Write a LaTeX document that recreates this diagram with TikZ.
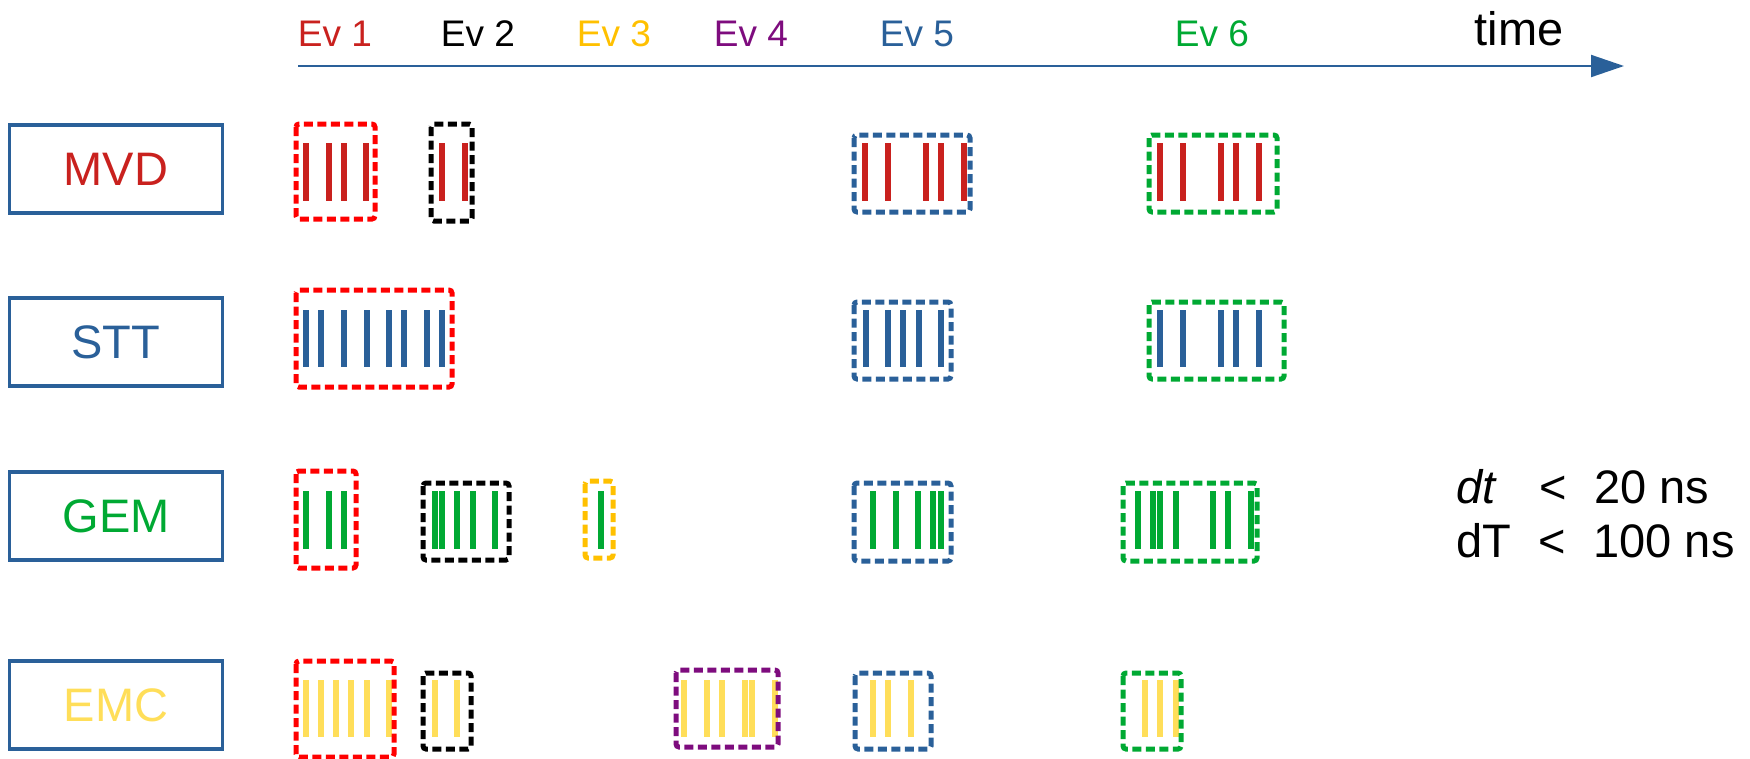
\documentclass[tikz,border=0pt]{standalone}
\usepackage{fontspec}
\setmainfont{Liberation Sans}
\usepackage{xcolor}
\usepackage{tikz}
\usetikzlibrary{arrows.meta,positioning}
\definecolor{evred}{HTML}{C9211E}
\definecolor{boxred}{HTML}{FF0000}
\definecolor{evyellow}{HTML}{FFC000}
\definecolor{emcyellow}{HTML}{FFDE59}
\definecolor{evpurple}{HTML}{7E0C7E}
\definecolor{evblue}{HTML}{2A6099}
\definecolor{evgreen}{HTML}{00A933}
\tikzset{
  detbox/.style={
    draw=evblue, line width=3.5pt, text=#1,
    minimum width=213pt, minimum height=88pt,
    inner sep=0pt, outer sep=0pt,
    font=\fontsize{47}{56}\selectfont,
  },
  evlbl/.style={text=#1, anchor=base, font=\fontsize{37}{44}\selectfont},
  hit/.style={draw=#1, line width=6pt},
  grp/.style={draw=#1, line width=5pt, dash pattern=on 9pt off 4.5pt,
    rounded corners=3pt},
  axis/.style={-{Triangle[length=33pt, width=22pt]}, line width=2pt, color=evblue},
}

\begin{document}
\begin{tikzpicture}[x=1pt, y=-1pt]
  \useasboundingbox (0,0) rectangle (1750,758);

  % time axis
  \coordinate (tstart) at (298,66);
  \coordinate (tend) at (1624,66);
  \draw[axis] (tstart) -- (tend);
  \node[anchor=base, font=\fontsize{47}{56}\selectfont] (time) at (1519,45) {time};

  \node[evlbl=evred] (ev1) at (335,46) {Ev 1};
  \node[evlbl=black] (ev2) at (478,46) {Ev 2};
  \node[evlbl=evyellow] (ev3) at (614,46) {Ev 3};
  \node[evlbl=evpurple] (ev4) at (751,46) {Ev 4};
  \node[evlbl=evblue] (ev5) at (917,46) {Ev 5};
  \node[evlbl=evgreen] (ev6) at (1212,46) {Ev 6};

  % detectors
  \node[detbox=evred] (mvd) at (116,169) {MVD};
  \node[detbox=evblue] (stt) at (116,342) {STT};
  \node[detbox=evgreen] (gem) at (116,516) {GEM};
  \node[detbox=emcyellow] (emc) at (116,705) {EMC};

  % MVD hits
  \foreach \x in {306,329,344,366} \draw[hit=evred] (\x,143) -- (\x,201);
  \foreach \x in {442,465} \draw[hit=evred] (\x,143) -- (\x,201);
  \foreach \x in {865,888,926,941,964} \draw[hit=evred] (\x,143) -- (\x,201);
  \foreach \x in {1160,1183,1221,1236,1259} \draw[hit=evred] (\x,143) -- (\x,201);
  \draw[grp=boxred] (296,124) rectangle (375,219);
  \draw[grp=black] (431,124) rectangle (472,221);
  \draw[grp=evblue] (854,135) rectangle (970,212);
  \draw[grp=evgreen] (1149,135) rectangle (1277,212);

  % STT hits
  \foreach \x in {306,321,344,367,389,404,427,442} \draw[hit=evblue] (\x,310) -- (\x,367);
  \foreach \x in {866,888,903,919,941} \draw[hit=evblue] (\x,310) -- (\x,367);
  \foreach \x in {1160,1183,1221,1236,1259} \draw[hit=evblue] (\x,310) -- (\x,367);
  \draw[grp=boxred] (296,290) rectangle (452,387);
  \draw[grp=evblue] (854,302) rectangle (951,379);
  \draw[grp=evgreen] (1149,302) rectangle (1284,379);

  % GEM hits
  \foreach \x in {306,329,344} \draw[hit=evgreen] (\x,491) -- (\x,549);
  \foreach \x in {435,442,457,473,495} \draw[hit=evgreen] (\x,491) -- (\x,549);
  \draw[hit=evgreen] (601,491) -- (601,549);
  \foreach \x in {873,896,918,933,941} \draw[hit=evgreen] (\x,491) -- (\x,549);
  \foreach \x in {1138,1153,1160,1176,1213,1228,1251} \draw[hit=evgreen] (\x,491) -- (\x,549);
  \draw[grp=boxred] (296,471) rectangle (356,568);
  \draw[grp=black] (423,483) rectangle (509,560);
  \draw[grp=evyellow] (585,481) rectangle (613,558);
  \draw[grp=evblue] (854,483) rectangle (951,561);
  \draw[grp=evgreen] (1123,483) rectangle (1257,561);

  % EMC hits
  \foreach \x in {306,321,336,351,367,389} \draw[hit=emcyellow] (\x,680) -- (\x,737);
  \foreach \x in {435,457} \draw[hit=emcyellow] (\x,680) -- (\x,737);
  \foreach \x in {684,707,722,745,752,775} \draw[hit=emcyellow] (\x,680) -- (\x,737);
  \foreach \x in {873,888,911} \draw[hit=emcyellow] (\x,680) -- (\x,737);
  \foreach \x in {1145,1160,1176} \draw[hit=emcyellow] (\x,680) -- (\x,737);
  \draw[grp=boxred] (296,661) rectangle (394,757);
  \draw[grp=black] (423,673) rectangle (471,749);
  \draw[grp=evpurple] (676,670) rectangle (778,747);
  \draw[grp=evblue] (855,673) rectangle (931,749);
  \draw[grp=evgreen] (1123,673) rectangle (1181,749);

  % time windows
  \node[anchor=base west, inner sep=0pt, font=\fontsize{47}{56}\selectfont] (dtlbl) at (1456,503)
    {\textit{dt}\hspace{42pt}<\hspace{28pt}20 ns};
  \node[anchor=base west, inner sep=0pt, font=\fontsize{47}{56}\selectfont] (dTlbl) at (1456,557)
    {dT\hspace{27pt}<\hspace{28pt}100 ns};

\end{tikzpicture}
\end{document}
